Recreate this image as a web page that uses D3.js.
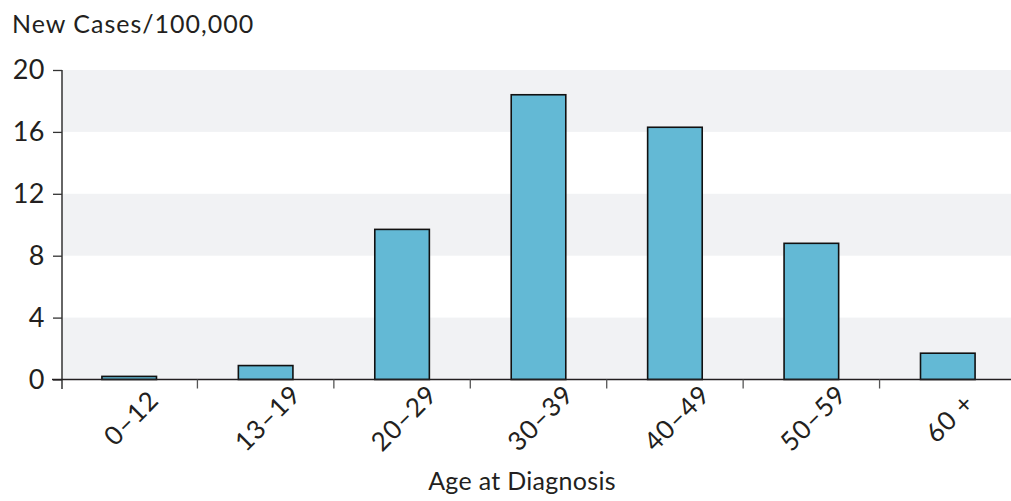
<!DOCTYPE html>
<html><head><meta charset="utf-8">
<script src="https://cdn.jsdelivr.net/npm/d3@7"></script>
<style>body{margin:0;background:#fff}svg{display:block}text{font-family:Lato,"Open Sans",sans-serif;fill:#231f20}</style>
</head><body><svg id="c" width="1011" height="501"></svg>
<script>
const categories = ["0–12","13–19","20–29","30–39","40–49","50–59","60 +"];
const values = [0.2, 0.9, 9.7, 18.4, 16.3, 8.8, 1.7];
const yTicks = [0,4,8,12,16,20];
const yTitle = "New Cases/100,000";
const xTitle = "Age at Diagnosis";

const svg = d3.select("#c");
const x = d3.scaleBand().domain(categories).range([61, 1016]).paddingInner(0).paddingOuter(0);
const y = d3.scaleLinear().domain([0,20]).range([379.5, 70]);
const bw = x.bandwidth()*0.4;

// bands
const bands = [[0,4],[8,12],[16,20]];
svg.selectAll("rect.band").data(bands).join("rect")
  .attr("x", 62).attr("width", 1011-62)
  .attr("y", d=>y(d[1])).attr("height", d=>y(d[0])-y(d[1]))
  .attr("fill", "#f1f2f4");

// bars
svg.selectAll("rect.bar").data(values).join("rect")
  .attr("x", (d,i)=>x(categories[i])+x.bandwidth()/2-bw/2)
  .attr("width", bw)
  .attr("y", d=>y(d)).attr("height", d=>y(0)-y(d))
  .attr("fill", "#63b9d5").attr("stroke", "#111").attr("stroke-width", 1.6);

// y axis
const ya = svg.append("g").attr("transform","translate(62,0)")
  .call(d3.axisLeft(y).tickValues(yTicks).tickSize(9).tickPadding(8));
ya.select(".domain").remove();
ya.selectAll("line").attr("stroke","#333").attr("stroke-width",1.3);
ya.selectAll("text").attr("font-size",27).attr("fill","#231f20").style("font-family","Lato, sans-serif").attr("letter-spacing",0.5);
svg.append("line").attr("x1",62).attr("x2",62).attr("y1",70).attr("y2",389).attr("stroke","#333").attr("stroke-width",1.5);

// x axis
svg.append("line").attr("x1",52).attr("x2",1011).attr("y1",y(0)).attr("y2",y(0)).attr("stroke","#231f20").attr("stroke-width",1.6);
const bounds = categories.slice(1).map(c=>x(c));
svg.selectAll("line.xt").data(bounds).join("line")
  .attr("x1",d=>d).attr("x2",d=>d).attr("y1",y(0)).attr("y2",y(0)+9)
  .attr("stroke","#555").attr("stroke-width",1.3);

svg.selectAll("text.xl").data(categories).join("text")
  .attr("transform", d=>`translate(${x(d)+x.bandwidth()/2+2},418) rotate(-45)`)
  .attr("text-anchor","middle").attr("dy","0.35em")
  .attr("font-size",26).attr("letter-spacing",1).text(d=>d);

svg.append("text").attr("x",12).attr("y",33).attr("font-size",25).attr("letter-spacing",1).text(yTitle);
svg.append("text").attr("x",522).attr("y",490).attr("text-anchor","middle").attr("font-size",25).attr("letter-spacing",0.3).text(xTitle);
</script></body></html>
